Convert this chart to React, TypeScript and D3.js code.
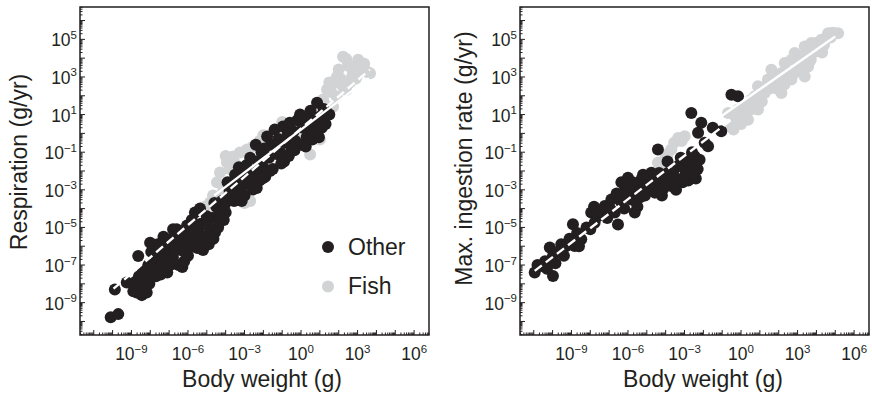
import React from "react";
import * as d3 from "d3";

// Body weight (log10 g) and rate (log10 g/yr) for each taxon group
const respOther: [number, number][] = [
  [-10.1, -9.78], [-9.7, -9.61], [-9.88, -8.3], [-9.25, -7.93], [-8.64, -6.52], [-8.01, -5.81],
  [-8.9, -8.4], [-8.72, -8.46], [-8.5, -8.1], [-8.3, -7.7], [-8.19, -8.46], [-8.05, -8.0],
  [-8.6, -7.6], [-8.4, -7.3], [-8.1, -7.0], [-7.9, -7.5], [-7.8, -6.9], [-8.2, -7.9], [-8.45, -8.6],
  [-7.7, -7.6], [-7.6, -7.2], [-7.5, -6.6], [-7.4, -6.1], [-7.3, -5.5], [-7.25, -6.9], [-7.1, -7.4],
  [-7.0, -6.3], [-7.2, -5.9], [-7.6, -5.9], [-7.4, -7.0], [-6.9, -5.6], [-6.79, -5.1], [-6.6, -5.1],
  [-6.8, -6.6], [-6.6, -5.8], [-6.5, -7.0], [-6.4, -6.2], [-6.3, -5.4], [-6.2, -6.8], [-6.1, -5.9],
  [-6.0, -6.5], [-5.9, -5.0], [-6.3, -7.1], [-6.05, -4.9],
  [-5.8, -4.6], [-5.7, -5.6], [-5.63, -4.21], [-5.5, -6.1], [-5.4, -5.3], [-5.3, -4.8], [-5.2, -6.2],
  [-5.1, -5.5], [-5.0, -4.4], [-4.9, -5.9], [-5.5, -4.9], [-4.8, -5.2], [-5.36, -4.0],
  [-4.7, -4.5], [-4.56, -5.26], [-4.5, -3.9], [-4.4, -5.0], [-4.3, -4.7], [-4.2, -3.6], [-4.1, -4.6],
  [-4.0, -4.2], [-3.9, -3.4], [-4.6, -3.7],
  [-3.9, -2.6], [-3.7, -3.2], [-3.6, -2.8], [-3.5, -2.2], [-3.4, -3.4], [-3.3, -1.8], [-3.2, -2.9],
  [-3.1, -2.4], [-3.0, -3.3], [-2.9, -1.7], [-2.8, -2.7],
  [-2.7, -1.3], [-2.55, -2.98], [-2.5, -2.1], [-2.4, -0.6], [-2.3, -1.5], [-2.2, -2.5], [-2.18, -2.08],
  [-2.1, -1.0], [-2.0, -1.8], [-1.9, -2.3],
  [-1.8, -0.17], [-1.7, -1.3], [-1.6, -0.6], [-1.5, -1.9], [-1.4, 0.2], [-1.3, -1.1], [-1.2, -0.3],
  [-1.1, -1.0], [-0.96, 0.37], [-0.9, -1.5], [-0.8, -0.5],
  [-0.6, 0.56], [-0.5, -0.86], [-0.4, 0.1], [-0.3, -0.4], [-0.2, 0.7], [-0.05, 1.0], [0.0, -0.6],
  [0.1, 0.3], [0.3, -0.2], [0.4, 0.9], [0.5, 1.2], [0.6, -0.33], [0.7, 0.5], [0.85, 1.63], [0.85, 0.04],
  [1.0, 0.9], [1.1, 0.3], [1.2, 1.3], [1.38, 1.1], [1.5, 1.0],
  [-8.8, -7.9], [-8.35, -8.3], [-7.95, -6.3], [-7.75, -6.4], [-7.45, -7.5], [-7.05, -6.8],
  [-6.95, -7.0], [-6.7, -6.0], [-6.45, -5.6], [-6.15, -6.3], [-5.95, -5.6], [-5.75, -6.0],
  [-5.6, -5.2], [-5.25, -5.8], [-4.95, -4.9], [-4.65, -5.6], [-4.35, -4.3], [-4.05, -3.8],
  [-3.8, -3.0], [-3.55, -3.6], [-3.35, -2.6], [-3.15, -3.6], [-2.95, -2.2], [-2.65, -2.4],
  [-2.35, -2.9], [-2.05, -2.4], [-1.95, -0.8], [-1.65, -2.0], [-1.35, -0.6], [-1.05, -1.6],
  [-0.7, 0.0], [-0.65, -1.2], [-0.35, -0.9], [0.15, 0.8], [0.25, -0.7], [0.55, 0.3], [0.95, -0.2],
  [1.3, 0.5],
];

const respFish: [number, number][] = [
  [2.23, 4.08], [3.03, 3.92], [3.5, 3.28], [3.66, 3.2], [2.76, 3.28], [1.9, 3.0], [2.5, 3.6],
  [3.2, 3.5], [2.0, 3.4],
  [1.38, 2.33], [1.9, 1.96], [1.17, 1.8], [2.23, 2.49], [1.7, 1.42], [2.6, 2.7], [1.5, 2.7],
  [2.9, 2.9], [1.0, 1.2],
  [0.48, -1.12], [1.0, -0.33], [1.0, 0.56], [-0.05, 0.04], [0.48, 0.2], [0.8, 0.3],
  [-1.27, 0.2], [-0.74, -0.17], [-1.8, -0.33], [-1.0, 0.6], [-2.55, -0.7], [-2.87, -0.86], [-2.2, -0.4],
  [-3.6, -1.23], [-3.93, -1.55], [-3.24, -1.02], [-4.3, -2.08], [-3.8, -1.9],
  [-4.46, -2.6], [-4.14, -3.08], [-4.67, -3.3], [-3.6, -3.5], [-3.24, -3.15], [-3.0, -3.7], [-2.7, -3.6],
  [-4.83, -3.67], [-4.46, -4.2], [-5.1, -3.9],
  [2.4, 3.95], [2.9, 3.6], [3.35, 3.7], [3.0, 3.1], [2.1, 2.9], [1.6, 2.2], [2.4, 2.3], [1.3, 1.5],
  [1.85, 2.7], [2.7, 3.0], [-4.0, -2.8], [-3.5, -1.6], [-4.0, -1.2], [-2.0, -0.1], [-1.5, 0.0],
  [-0.4, 0.4], [0.3, 0.6], [1.25, 0.5],
];

const ingestOther: [number, number][] = [
  [-10.95, -7.4], [-9.98, -7.58], [-10.6, -7.05], [-10.15, -6.07], [-9.98, -6.52], [-9.54, -5.9],
  [-9.3, -6.0], [-8.83, -5.99], [-8.92, -4.83], [-8.48, -5.63], [-7.95, -4.21], [-7.77, -4.75],
  [-7.23, -3.86], [-6.88, -3.51], [-6.53, -4.84], [-6.7, -4.21], [-6.17, -2.8], [-6.0, -2.36],
  [-5.82, -3.51], [-5.64, -4.21], [-5.47, -2.98], [-5.29, -2.45], [-4.94, -2.8], [-4.76, -2.09],
  [-4.41, -0.86], [-4.58, -3.15], [-4.23, -2.45], [-3.87, -2.09], [-3.7, -2.8], [-3.34, -1.74],
  [-2.99, -2.27], [-2.64, -1.56], [-2.64, 1.09], [-2.11, 0.56], [-2.46, -1.21], [-2.28, 0.03],
  [-1.93, -0.5], [-1.75, -0.68], [-1.05, 0.11], [-0.51, 2.06], [-0.16, 1.97],
  [-10.4, -6.8], [-9.7, -6.3], [-9.1, -5.6], [-8.2, -5.0], [-7.6, -4.4], [-7.4, -4.1], [-6.4, -3.6],
  [-6.2, -4.0], [-5.9, -3.0], [-5.6, -3.6], [-5.1, -3.3], [-4.9, -2.3], [-4.5, -2.6], [-4.1, -2.9],
  [-3.9, -1.5], [-3.5, -2.4], [-3.2, -1.3], [-3.0, -1.9], [-2.8, -2.5], [-2.5, -1.7], [-2.3, -1.9],
  [-1.5, 0.3],
  [-10.8, -7.0], [-10.3, -7.2], [-9.85, -6.9], [-9.4, -6.5], [-8.7, -5.3], [-8.6, -6.0], [-8.0, -5.1],
  [-7.8, -3.9], [-7.1, -4.5], [-6.95, -4.0], [-6.6, -3.2], [-6.35, -2.6], [-6.1, -3.3], [-5.75, -2.6],
  [-5.5, -3.9], [-5.35, -3.4], [-5.2, -2.2], [-4.7, -3.0], [-4.35, -2.1], [-4.2, -3.3], [-3.95, -2.5],
  [-3.6, -2.1], [-3.45, -3.0], [-3.1, -2.6], [-2.9, -1.4], [-2.7, -2.1], [-2.6, -1.0], [-2.4, -2.4],
  [-2.2, -1.4],
];

const ingestFish: [number, number][] = [
  [-4.05, -1.39], [-3.34, -0.24], [-2.99, -0.15], [-4.41, -1.56], [-3.7, -0.86], [-3.9, -1.1],
  [-0.51, 0.38], [-0.69, 1.09], [-0.16, 1.27], [0.2, 1.44], [0.55, 1.8], [0.9, 2.5], [1.26, 2.15],
  [1.43, 2.86], [1.79, 3.03], [1.61, 3.39], [2.14, 3.21], [2.32, 3.74], [2.67, 3.92], [2.85, 4.27],
  [3.2, 4.09], [3.38, 4.62], [3.56, 3.56], [3.73, 4.8], [3.38, 3.03], [4.26, 4.98], [4.62, 5.33],
  [4.97, 5.33], [5.15, 5.33], [2.14, 2.15], [0.9, 1.27], [0.37, 0.73], [2.67, 2.86], [3.03, 3.56],
  [1.96, 2.68], [0.73, 1.97], [4.0, 4.4], [4.4, 4.7], [-0.3, 0.9], [0.0, 0.5],
  [-0.4, 0.2], [0.1, 1.0], [0.3, 1.1], [0.6, 1.3], [0.8, 1.6], [1.1, 1.7], [1.0, 2.2], [1.3, 2.5],
  [1.55, 2.4], [1.7, 2.7], [1.85, 2.4], [2.0, 3.0], [2.3, 2.6], [2.45, 3.3], [2.5, 2.9], [2.8, 3.2],
  [3.0, 3.9], [3.1, 3.3], [3.3, 3.8], [3.5, 4.2], [3.7, 3.9], [3.85, 4.3], [3.95, 4.8], [4.1, 4.6],
  [4.3, 4.3], [4.5, 5.0], [4.75, 5.1], [4.85, 5.35], [-3.55, -0.5], [-3.15, -0.4], [-4.2, -1.7],
];

// Fitted allometric lines: log10(rate) = a + b * log10(mass), over [from, to]
type Fit = { a: number; b: number; from: number; to: number; dashed: boolean };
const respFits: Fit[] = [
  { a: 0.26, b: 0.856, from: -9.95, to: 3.66, dashed: true },
  { a: 0.2, b: 0.76, from: -4.6, to: 3.6, dashed: false },
];
const ingestFits: Fit[] = [
  { a: 1.12, b: 0.77, from: -10.95, to: -0.5, dashed: true },
  { a: 1.65, b: 0.7, from: -1.2, to: 5.0, dashed: false },
];

const xLabelExps = [-9, -6, -3, 0, 3, 6];
const yLabelExps = [5, 3, 1, -1, -3, -5, -7, -9];
const legendItems = ["Other", "Fish"];

const X_EXP = [-11.73, 6.79];
const Y_EXP = [-10.72, 6.72];

const DARK = "#231f20";
const GREY = "#d1d3d4";
const FONT = "'Liberation Sans', Arial, Helvetica, sans-serif";
const TOP = 7;
const BOTTOM = 335;
const R = 6;

const fmtExp = (e: number) => (e < 0 ? "\u2212" + Math.abs(e) : String(e));

type PanelProps = {
  left: number;
  right: number;
  other: [number, number][];
  fish: [number, number][];
  fits: Fit[];
  yTitle: string;
  yTitleX: number;
  yTitleY: number;
  xTitleX: number;
  legend: boolean;
};

function logTicks(lo: number, hi: number) {
  const out: { v: number; major: boolean }[] = [];
  for (let e = Math.floor(lo); e <= Math.ceil(hi); e++) {
    for (let m = 1; m <= 9; m++) {
      const v = m * 10 ** e;
      if (v >= 10 ** lo && v <= 10 ** hi) out.push({ v, major: m === 1 });
    }
  }
  return out;
}

function Panel(p: PanelProps) {
  const x = d3.scaleLog().domain([10 ** X_EXP[0], 10 ** X_EXP[1]]).range([p.left, p.right]);
  const y = d3.scaleLog().domain([10 ** Y_EXP[0], 10 ** Y_EXP[1]]).range([BOTTOM, TOP]);

  const xTicks = logTicks(X_EXP[0], X_EXP[1]);
  const yTicks = logTicks(Y_EXP[0], Y_EXP[1]);

  const fitPath = (f: Fit) => {
    const gen = d3
      .line<number>()
      .x((e) => x(10 ** e))
      .y((e) => y(10 ** (f.a + f.b * e)));
    return gen([f.from, f.to]) || "";
  };

  return (
    <g>
      {p.fish.map((d, i) => (
        <circle key={"f" + i} cx={x(10 ** d[0])} cy={y(10 ** d[1])} r={R} fill={GREY} />
      ))}
      {p.other.map((d, i) => (
        <circle key={"o" + i} cx={x(10 ** d[0])} cy={y(10 ** d[1])} r={R} fill={DARK} />
      ))}
      {p.fits.map((f, i) => (
        <path
          key={"fit" + i}
          d={fitPath(f)}
          fill="none"
          stroke="#ffffff"
          strokeWidth={2.4}
          strokeDasharray={f.dashed ? "9 5" : undefined}
        />
      ))}

      {xTicks.map((t, i) => (
        <line
          key={"xt" + i}
          x1={x(t.v)}
          x2={x(t.v)}
          y1={BOTTOM}
          y2={BOTTOM - (t.major ? 5 : 2.5)}
          stroke={DARK}
          strokeWidth={1}
        />
      ))}
      {yTicks.map((t, i) => (
        <line
          key={"yt" + i}
          x1={p.left}
          x2={p.left + (t.major ? 5 : 2.5)}
          y1={y(t.v)}
          y2={y(t.v)}
          stroke={DARK}
          strokeWidth={1}
        />
      ))}
      <rect
        x={p.left}
        y={TOP}
        width={p.right - p.left}
        height={BOTTOM - TOP}
        fill="none"
        stroke={DARK}
        strokeWidth={1.5}
      />

      {xLabelExps.map((e) => (
        <text key={"xl" + e} x={x(10 ** e)} y={360} textAnchor="middle" fontSize={17.5} fill={DARK}>
          <tspan>10</tspan>
          <tspan dy={-7.5} fontSize={11.5}>
            {fmtExp(e)}
          </tspan>
        </text>
      ))}
      {yLabelExps.map((e) => (
        <text key={"yl" + e} x={p.left - 3} y={y(10 ** e) + 7} textAnchor="end" fontSize={17.5} fill={DARK}>
          <tspan>10</tspan>
          <tspan dy={-7.5} fontSize={11.5}>
            {fmtExp(e)}
          </tspan>
        </text>
      ))}

      <text x={p.xTitleX} y={386.5} textAnchor="middle" fontSize={23} fill={DARK}>
        Body weight (g)
      </text>
      <text
        transform={`translate(${p.yTitleX},${p.yTitleY}) rotate(-90)`}
        textAnchor="middle"
        fontSize={23}
        fill={DARK}
      >
        {p.yTitle}
      </text>

      {p.legend &&
        legendItems.map((name, i) => (
          <g key={name}>
            <circle cx={328} cy={247 + i * 39.5} r={R} fill={i === 0 ? DARK : GREY} />
            <text x={348} y={255 + i * 39} fontSize={23} fill={DARK}>
              {name}
            </text>
          </g>
        ))}
    </g>
  );
}

export default function App() {
  return (
    <svg
      width={872}
      height={396}
      style={{ position: "absolute", left: 0, top: 0, background: "#fff", fontFamily: FONT }}
    >
      <rect width={872} height={396} fill="#fff" />
      <Panel
        left={80}
        right={429}
        other={respOther}
        fish={respFish}
        fits={respFits}
        yTitle="Respiration (g/yr)"
        yTitleX={26.5}
        yTitleY={162}
        xTitleX={262}
        legend={true}
      />
      <Panel
        left={520}
        right={869}
        other={ingestOther}
        fish={ingestFish}
        fits={ingestFits}
        yTitle="Max. ingestion rate (g/yr)"
        yTitleX={471.5}
        yTitleY={158.5}
        xTitleX={703}
        legend={false}
      />
    </svg>
  );
}
